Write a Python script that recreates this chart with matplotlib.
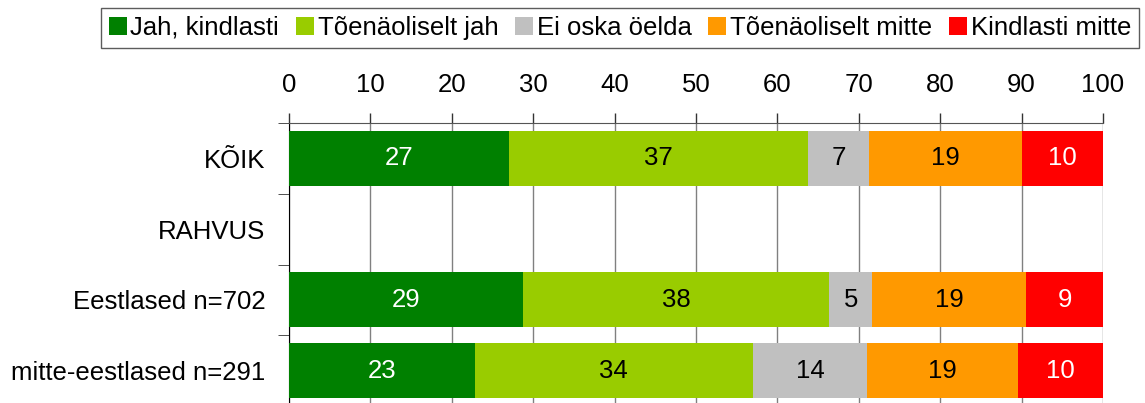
import numpy as np
import matplotlib.pyplot as plt
from matplotlib.patches import Patch

plt.rcParams['font.family'] = ['Liberation Sans', 'DejaVu Sans']

categories = ["KÕIK", "RAHVUS", "Eestlased n=702", "mitte-eestlased n=291"]
series = ["Jah, kindlasti", "Tõenäoliselt jah", "Ei oska öelda",
          "Tõenäoliselt mitte", "Kindlasti mitte"]
colors = ["#008000", "#99cc00", "#c0c0c0", "#ff9900", "#ff0000"]
text_colors = ["white", "black", "black", "black", "white"]

# values per series, one per category (RAHVUS is a header row with no data)
jah = [27.0, 0, 28.8, 22.8]
toen_jah = [36.8, 0, 37.6, 34.2]
ei_oska = [7.4, 0, 5.2, 14.0]
toen_mitte = [18.9, 0, 19.0, 18.6]
kindl_mitte = [9.9, 0, 9.4, 10.4]
values = [jah, toen_jah, ei_oska, toen_mitte, kindl_mitte]

fs = 18.5

fig = plt.figure(figsize=(11.45, 4.03), dpi=100)
ax = fig.add_axes([289/1145, -3/403, (1103-289)/1145, (406-123)/403])

y = np.arange(len(categories))
left = np.zeros(len(categories))
for vals, col, tc in zip(values, colors, text_colors):
    vals = np.array(vals)
    ax.barh(y, vals, left=left, height=0.78, color=col, zorder=3)
    for yi, v, l in zip(y, vals, left):
        if v > 0:
            ax.text(l + v/2, yi, "%d" % round(v), ha='center', va='center',
                    color=tc, fontsize=fs, zorder=4)
    left += vals

ax.set_xlim(0, 100)
ax.set_ylim(len(categories) - 0.5, -0.5)
ax.xaxis.tick_top()
ax.set_xticks(np.arange(0, 101, 10))
ax.tick_params(axis='x', direction='out', length=7, width=1, color='#333333',
               labelsize=fs, pad=12)
ax.set_yticks(y)
ax.set_yticklabels(categories)
ax.set_yticks(np.arange(-0.5, len(categories), 1), minor=True)
ax.tick_params(axis='y', which='major', length=0, labelsize=fs, pad=17)
ax.tick_params(axis='y', which='minor', length=8, direction='out', color='#333333')
ax.grid(axis='x', color='#808080', linewidth=1, zorder=0)
ax.spines['right'].set_visible(False)
ax.spines['bottom'].set_visible(False)
ax.spines['top'].set_color('#555555')
ax.spines['left'].set_color('black')

handles = [Patch(facecolor=c, edgecolor='none') for c in colors]
fig.legend(handles, series, loc='center', bbox_to_anchor=(620/1145, 1 - 28/403),
           ncol=5, fontsize=fs, frameon=True, fancybox=False, edgecolor='#333333',
           handlelength=0.7, handleheight=0.7, handletextpad=0.15,
           columnspacing=0.65, borderpad=0.3, borderaxespad=0)

fig.savefig("out.png", dpi=100)
